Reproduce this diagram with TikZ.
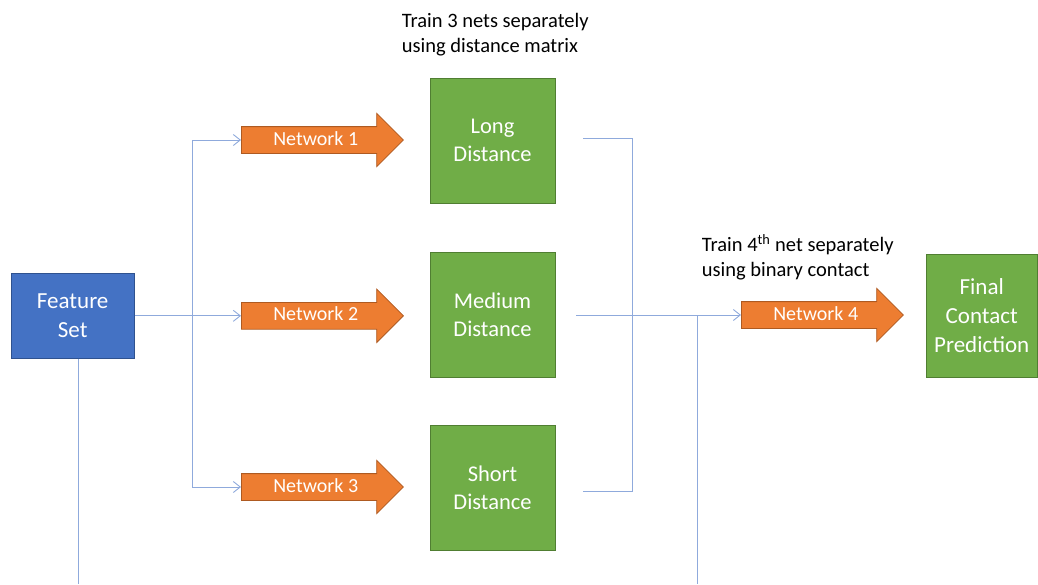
\documentclass[tikz,border=0pt]{standalone}
\usepackage{fontspec}
\setmainfont{Carlito}
\usetikzlibrary{arrows.meta,shapes.arrows}

\definecolor{fsblue}{HTML}{4472C4}
\definecolor{fsblueedge}{HTML}{2F528F}
\definecolor{boxgreen}{HTML}{70AD47}
\definecolor{boxgreenedge}{HTML}{507E32}
\definecolor{netorange}{HTML}{ED7D31}
\definecolor{netorangeedge}{HTML}{AE5A21}
\definecolor{linkblue}{HTML}{8FAADC}

\begin{document}
\begin{tikzpicture}[x=1pt,y=-1pt,
  box/.style={draw=boxgreenedge, fill=boxgreen, line width=0.8pt, text=white,
    align=center, minimum width=125pt, minimum height=125pt, inner sep=0pt,
    font=\fontsize{22.5}{28}\selectfont},
  inputbox/.style={box, draw=fsblueedge, fill=fsblue, minimum width=123pt,
    minimum height=85pt, font=\fontsize{23}{28.3}\selectfont},
  netarrow/.style={shape=single arrow, draw=netorangeedge, fill=netorange,
    line width=0.8pt, text=white, single arrow head extend=13.3pt,
    single arrow tip angle=90, minimum height=162pt, inner xsep=0pt,
    inner ysep=0pt, text height=18pt, text depth=8pt,
    font=\fontsize{20}{24}\selectfont, anchor=tail},
  link/.style={draw=linkblue, line width=0.9pt},
  linkarrow/.style={link, -{Straight Barb[length=7pt,width=11pt]}},
  note/.style={align=left, anchor=north west, inner sep=0pt,
    font=\fontsize{20.5}{25}\selectfont}
]
\useasboundingbox (0,0) rectangle (1038,584);

% captions
\node[note] (note3) at (401.7,13) {Train 3 nets separately\\using distance matrix};
\node[note] (note4) at (701.7,234) {Train 4\textsuperscript{th} net separately\\using binary contact};

% input
\node[inputbox] (fs) at (72.7,315.8) {Feature\\Set};

% first-stage networks
\node[netarrow] (n1) at (241,140) {Network 1};
\node[netarrow] (n2) at (241,315.8) {Network 2};
\node[netarrow] (n3) at (241,487) {Network 3};

% distance targets
\node[box] (lng)  at (492.5,140.8) {Long\\Distance};
\node[box] (med)  at (492.5,315)   {Medium\\Distance};
\node[box] (shrt) at (492.5,488)   {Short\\Distance};

% second stage
\node[netarrow] (n4) at (741,315) {Network 4};
\node[box, minimum width=111pt, minimum height=123pt,
  font=\fontsize{23}{28.7}\selectfont] (fin) at (981.7,315.4)
  {Final\\Contact\\Prediction};

% fan-out from the feature set
\coordinate (split) at (192,315.8);
\coordinate (fsdown) at (78,584);
\draw[linkarrow] (fs.east) -- (n2.tail);
\draw[linkarrow] (split) |- (n1.tail);
\draw[linkarrow] (split) |- (n3.tail);
\draw[link] (fs.south -| fsdown) -- (fsdown);

% merge into the fourth network
\coordinate (longout)  at (583,138);
\coordinate (mergetop) at (632,138);
\coordinate (mergebot) at (632,491);
\coordinate (shortout) at (583,491);
\coordinate (medout)   at (576,315);
\coordinate (tap)      at (697.5,315);
\coordinate (tapdown)  at (697.5,584);
\draw[link] (longout) -- (mergetop) -- (mergebot) -- (shortout);
\draw[linkarrow] (medout) -- (n4.tail);
\draw[link] (tap) -- (tapdown);
\end{tikzpicture}
\end{document}
